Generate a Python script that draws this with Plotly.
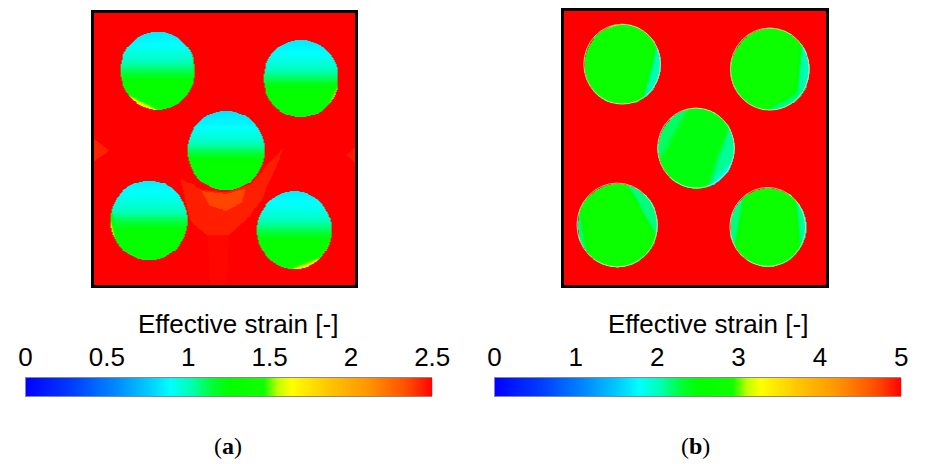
import numpy as np
import plotly.graph_objects as go

W, H = 927, 464

# ---- panel (a): inclusions in RVE coordinates (side = 100) ----
A_CX = [24.3, 79.0, 50.4, 21.0, 76.5]
A_CY = [79.0, 76.1, 49.6, 23.9, 20.3]
A_R = [14.3, 14.3, 14.7, 14.7, 14.3]
A_TOP = [0.84, 0.84, 0.82, 0.85, 0.85]      # strain at the inclusion crown
A_CORE = [1.33, 1.33, 1.33, 1.33, 1.33]     # strain in the lower part
A_MATRIX = 2.6
# vertical strain profile inside an inclusion: share of (core -> crown) vs height
PROFILE_DY = [-0.35, -0.05, 0.3, 0.65, 1.0]
PROFILE_W = [0.0, 0.4, 0.72, 0.9, 1.0]
# local zones inside inclusions: (inclusion, direction deg, strain, chord offset)
A_SPOTS = [(0, -115, 1.62, 0.84), (0, 5, 1.55, 0.93), (1, -25, 1.62, 0.9),
           (3, 190, 1.6, 0.88), (3, -105, 1.55, 0.92), (4, -70, 1.62, 0.84),
           (4, -30, 1.55, 0.9)]
# faceted zones of lower strain in the matrix: (strain, vertices)
A_ZONES = [
    (2.44, [(33.1, 39.5), (41.2, 35.1), (50.4, 34.1), (59.6, 37.0), (66.2, 44.2),
            (72.4, 50.4), (67.6, 39.5), (64.0, 31.5), (57.7, 23.6), (51.5, 18.5),
            (43.0, 18.5), (36.8, 23.6), (34.9, 31.5)]),
    (2.36, [(41.0, 34.6), (50.4, 33.6), (58.0, 35.6), (56.5, 30.5),
            (50.5, 27.5), (44.0, 29.5)]),
    (2.43, [(0.0, 54.0), (5.9, 49.6), (0.0, 45.5)]),
    (2.45, [(100.0, 51.0), (96.3, 47.8), (100.0, 45.0)]),
    (2.485, [(43.0, 18.5), (51.5, 18.5), (50.5, 0.0), (44.5, 0.0)]),
]
A_TICKS = [0, 0.5, 1, 1.5, 2, 2.5]
A_TICKTEXT = ["0", "0.5", "1", "1.5", "2", "2.5"]

# ---- panel (b) ----
B_CX = [22.3, 78.5, 50.4, 20.4, 77.7]
B_CY = [80.6, 78.8, 50.0, 21.9, 21.2]
B_R = [14.6, 15.0, 14.6, 15.3, 14.4]
B_TOP = [2.8, 2.8, 2.45, 2.8, 2.8]
B_CORE = [2.8, 2.8, 2.45, 2.8, 2.8]
B_MATRIX = 5.2
B_SPOTS = [(0, -15, 2.05, 0.66), (0, 105, 3.25, 0.93), (1, -5, 2.05, 0.66),
           (1, -60, 2.15, 0.74), (2, -20, 2.1, 0.55), (2, -45, 1.85, 0.84),
           (2, 150, 2.2, 0.62), (3, 30, 2.15, 0.62), (3, 190, 2.2, 0.78),
           (4, 170, 2.15, 0.7), (4, 5, 2.1, 0.72)]
B_ZONES = []
B_TICKS = [0, 1, 2, 3, 4, 5]
B_TICKTEXT = ["0", "1", "2", "3", "4", "5"]

COLORSCALE = [
    [0.0, "#0000ff"], [0.12, "#0040ff"], [0.22, "#0088ff"], [0.30, "#00c8ff"],
    [0.355, "#00ffff"], [0.41, "#00ffb0"], [0.46, "#00ff30"], [0.50, "#00ff00"],
    [0.585, "#10ff00"], [0.62, "#c0ff00"], [0.655, "#ffff00"], [0.74, "#ffc800"],
    [0.84, "#ff9600"], [0.935, "#ff5000"], [1.0, "#ff0000"],
]

N = 280
RAMP = 0.12


def in_polygon(X, Y, verts):
    inside = np.zeros(X.shape, dtype=bool)
    n = len(verts)
    for i in range(n):
        x1, y1 = verts[i]
        x2, y2 = verts[(i + 1) % n]
        cross = (y1 > Y) != (y2 > Y)
        xint = x1 + (Y - y1) * (x2 - x1) / ((y2 - y1) if y2 != y1 else 1e-9)
        inside ^= cross & (X < xint)
    return inside


def strain_field(cx, cy, r, top, core, matrix, spots, zones, n=N):
    g = (np.arange(n) + 0.5) * 100.0 / n
    X, Y = np.meshgrid(g, g)
    Z = np.full_like(X, matrix)
    for val, verts in zones:
        Z = np.where(in_polygon(X, Y, verts), val, Z)
    for i in range(len(cx)):
        dx = (X - cx[i]) / r[i]
        dy = (Y - cy[i]) / r[i]
        inside = np.hypot(dx, dy) <= 1.0
        w = np.interp(dy, PROFILE_DY, PROFILE_W)
        v = core[i] + (top[i] - core[i]) * w
        for (k, a0, val, p0) in spots:
            if k != i:
                continue
            a = np.radians(a0)
            proj = dx * np.cos(a) + dy * np.sin(a)
            t = np.clip((proj - p0) / RAMP, 0, 1)
            v = v + (val - v) * t
        Z = np.where(inside, v, Z)
    return g, np.round(Z, 3)


ga, Za = strain_field(A_CX, A_CY, A_R, A_TOP, A_CORE, A_MATRIX, A_SPOTS, A_ZONES)
gb, Zb = strain_field(B_CX, B_CY, B_R, B_TOP, B_CORE, B_MATRIX, B_SPOTS, B_ZONES)

fig = go.Figure()
fig.add_trace(go.Heatmap(x=ga, y=ga, z=Za, zmin=0, zmax=2.5, colorscale=COLORSCALE,
                         zsmooth="best", showscale=False, xaxis="x", yaxis="y",
                         hoverinfo="skip"))
fig.add_trace(go.Heatmap(x=gb, y=gb, z=Zb, zmin=0, zmax=5, colorscale=COLORSCALE,
                         zsmooth="best", showscale=False, xaxis="x2", yaxis="y2",
                         hoverinfo="skip"))

# legend bars
for ticks, ax, ay in [(A_TICKS, "x3", "y3"), (B_TICKS, "x4", "y4")]:
    vmax = ticks[-1]
    xs = np.linspace(0, vmax, 400)
    fig.add_trace(go.Heatmap(x=xs, y=[0], z=[xs], zmin=0, zmax=vmax,
                             colorscale=COLORSCALE, showscale=False,
                             xaxis=ax, yaxis=ay, hoverinfo="skip"))

# thin light rim around the inclusions of panel (b)
for cx, cy, r in zip(B_CX, B_CY, B_R):
    fig.add_shape(type="circle", xref="x2", yref="y2", x0=cx - r, x1=cx + r,
                  y0=cy - r, y1=cy + r, line=dict(color="rgba(255,255,255,0.6)", width=1))


def px(x):
    return x / W


def py(y):
    return 1 - y / H


field_ax = dict(showgrid=False, zeroline=False, showticklabels=False, ticks="",
                showline=True, linecolor="black", linewidth=3, mirror=True,
                range=[0, 100])
bar_x = dict(showgrid=False, zeroline=False, ticks="", side="top",
             showline=True, linecolor="#888888", linewidth=1, mirror=True,
             tickfont=dict(family="Liberation Sans, Arial", size=26, color="black"),
             ticklabelstandoff=1)
bar_y = dict(showgrid=False, zeroline=False, showticklabels=False, ticks="",
             range=[-0.5, 0.5])
tick_ax = dict(showgrid=False, zeroline=False, showticklabels=False, ticks="outside",
               ticklen=3, tickcolor="#444444", tickwidth=1, side="bottom", showline=False)

ybar = [py(396), py(378)]
fig.update_layout(
    width=W, height=H, margin=dict(l=0, r=0, t=0, b=0),
    paper_bgcolor="white", plot_bgcolor="white", showlegend=False,
    xaxis=dict(domain=[px(89), px(358)], anchor="y", **field_ax),
    yaxis=dict(domain=[py(285), py(13)], anchor="x", **field_ax),
    xaxis2=dict(domain=[px(572), px(842)], anchor="y2", **field_ax),
    yaxis2=dict(domain=[py(285), py(11)], anchor="x2", **field_ax),
    xaxis3=dict(domain=[px(19), px(437)], anchor="y3", range=[0, 2.5],
                tickvals=A_TICKS, ticktext=A_TICKTEXT, **bar_x),
    yaxis3=dict(domain=ybar, anchor="x3", **bar_y),
    xaxis4=dict(domain=[px(501), px(919)], anchor="y4", range=[0, 5],
                tickvals=B_TICKS, ticktext=B_TICKTEXT, **bar_x),
    yaxis4=dict(domain=ybar, anchor="x4", **bar_y),
    xaxis5=dict(overlaying="x3", anchor="y3", range=[0, 2.5],
                tickvals=A_TICKS[1:-1], **tick_ax),
    xaxis6=dict(overlaying="x4", anchor="y4", range=[0, 5],
                tickvals=B_TICKS[1:-1], **tick_ax),
)

title_font = dict(family="Liberation Sans, Arial", size=26, color="black")
label_font = dict(family="Liberation Serif, Times New Roman", size=24, color="black")
for xt, xl, lab in [(237, 227, "a"), (720, 708, "b")]:
    fig.add_annotation(x=px(xt), y=py(324), xref="paper", yref="paper",
                       text="Effective strain [-]", showarrow=False, font=title_font,
                       xanchor="center", yanchor="middle")
    fig.add_annotation(x=px(xl), y=py(446), xref="paper", yref="paper",
                       text=f"(<b>{lab}</b>)", showarrow=False, font=label_font,
                       xanchor="center", yanchor="middle")

fig.write_html("out.html")
